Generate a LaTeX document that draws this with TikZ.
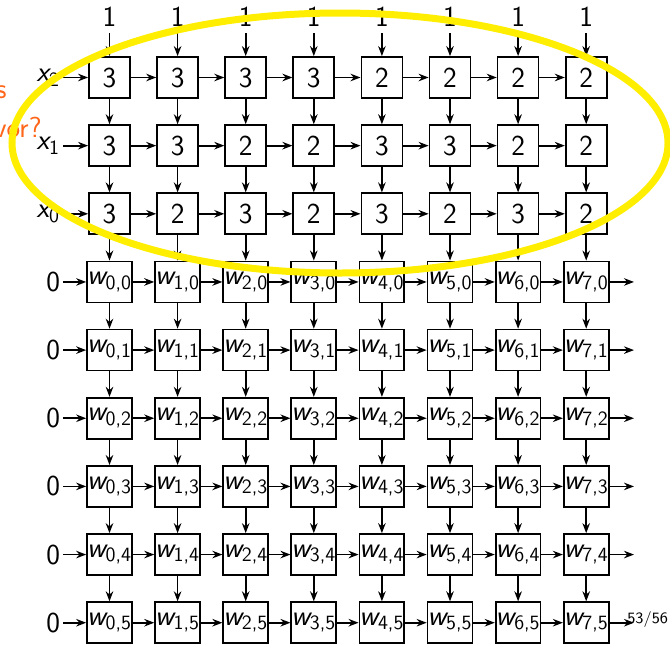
\documentclass[tikz,border=0pt]{standalone}
\usepackage{amsmath}
\usetikzlibrary{arrows.meta}
\renewcommand{\familydefault}{\sfdefault}
\newcommand{\wcell}[2]{$\textsl{w}_{\textsf{#1,#2}}$}
\newcommand{\xin}[1]{$\textsl{x}_{\textsf{#1}}$}

\begin{document}
\begin{tikzpicture}[
  font=\fontsize{16.5}{20}\selectfont,
  >={Stealth[length=0.2cm,width=0.15cm]},
  cell/.style={draw, line width=1pt, minimum size=0.82cm, inner sep=0pt},
  wire/.style={->, line width=1pt},
]

\definecolor{hilite}{HTML}{FFEE00}
\definecolor{alertc}{HTML}{FF661A}

\def\dx{1.362}   % column step
\def\dy{1.363}   % row step
\def\xl{-0.93}   % start of the input wires
\def\xr{10.49}   % free end of the weight rows

\useasboundingbox (-2.19,1.55) rectangle (11.21,-11.35);

% input rows x_2, x_1, x_0
\foreach \vals [count=\j from 0] in {{3,3,3,3,2,2,2,2},{3,3,2,2,3,3,2,2},{3,2,3,2,3,2,3,2}} {
  \foreach \v [count=\i from 0] in \vals {
    \node[cell] (c-\i-\j) at (\i*\dx,-\j*\dy) {\v};
  }
}

% weight rows
\foreach \j in {0,...,5} {
  \pgfmathtruncatemacro{\r}{\j+3}
  \foreach \i in {0,...,7} {
    \node[cell] (c-\i-\r) at (\i*\dx,-\r*\dy) {\wcell{\i}{\j}};
  }
}

% top inputs
\foreach \i in {0,...,7} {
  \node[inner sep=0.12cm] (t-\i) at (\i*\dx,1.21) {1};
  \draw[wire] (t-\i) -- (c-\i-0);
}

% left inputs
\foreach \j/\k in {0/2,1/1,2/0} {
  \node[anchor=east, inner sep=1.5pt] (l-\j) at (\xl,-\j*\dy) {\xin{\k}};
}
\foreach \j in {3,...,8} {
  \node[anchor=east, inner sep=1.5pt] (l-\j) at (\xl,-\j*\dy) {0};
}
\foreach \j in {0,...,8} {
  \draw[wire] (l-\j) -- (c-0-\j);
}

% links inside the grid
\foreach \j in {0,...,8} {
  \foreach \i [evaluate=\i as \n using int(\i+1)] in {0,...,6} {
    \draw[wire] (c-\i-\j) -- (c-\n-\j);
  }
}
\foreach \j [evaluate=\j as \n using int(\j+1)] in {0,...,7} {
  \foreach \i in {0,...,7} {
    \draw[wire] (c-\i-\j) -- (c-\i-\n);
  }
}

% outputs of the weight rows
\foreach \j in {3,...,8} {
  \coordinate (r-\j) at (\xr,-\j*\dy);
  \draw[wire] (c-7-\j) -- (r-\j);
}

% cut-off slide text
\node[anchor=base east, inner sep=0pt, text=alertc] (q-1) at (-2.05,-0.41) {s};
\node[anchor=base east, inner sep=0pt, text=alertc] (q-2) at (-1.35,-1.19) {vor?};

% page number
\node[anchor=base west, inner sep=0pt, font=\fontsize{9}{11}\selectfont] (pg) at (10.35,-10.91) {53/56};

% highlight
\draw[hilite, line width=0.14cm] (4.61,-1.31) ellipse [x radius=6.56, y radius=2.6];

\end{tikzpicture}
\end{document}
